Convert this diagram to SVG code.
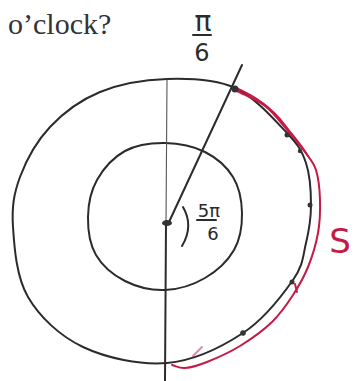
<svg xmlns="http://www.w3.org/2000/svg" width="355" height="381" viewBox="0 0 355 381">
<style>
.ink{fill:none;stroke:#2b2b2b;stroke-width:2;stroke-linecap:round;stroke-linejoin:round}
.thin{fill:none;stroke:#555;stroke-width:1.1;stroke-linecap:round}
.red{fill:none;stroke:#c41a45;stroke-width:2;stroke-linecap:round;stroke-linejoin:round}
.dot{fill:#333}
.hand{font-family:"DejaVu Sans",sans-serif;fill:#2b2b2b}
</style>
<rect width="355" height="381" fill="#ffffff"/>
<text x="8" y="34" font-family="Liberation Serif, serif" font-size="30" fill="#333">o’clock?</text>
<g id="outer-circle">
<path class="ink" d="M167,79 C189.5,78.3 215,79 235,88 C255,97 275.2,120.5 287,133 C298.8,145.5 302,151 306,163 C310,175 311,191.7 311,205 C311,218.3 309,230.5 306,243 C303,255.5 303.5,265 293,280 C282.5,295 264,319.2 243,333 C222,346.8 193.7,360.7 167,363 C140.3,365.3 106.2,358 83,347 C59.8,336 39.7,317 28,297 C16.3,277 14.3,247 13,227 C11.7,207 13.8,193.7 20,177 C26.2,160.3 36.7,141.2 50,127 C63.3,112.8 80.5,100 100,92 C119.5,84 144.5,79.7 167,79 Z"/>
</g>
<g id="inner-circle">
<path class="ink" d="M165,143 C178.3,143.2 193.7,146.3 205,152 C216.3,157.7 226.8,166.8 233,177 C239.2,187.2 241.8,200.8 242,213 C242.2,225.2 240.2,239.2 234,250 C227.8,260.8 216.5,271.3 205,278 C193.5,284.7 178.3,289.5 165,290 C151.7,290.5 136.5,286.8 125,281 C113.5,275.2 102.2,265.7 96,255 C89.8,244.3 87.8,229.5 88,217 C88.2,204.5 90.8,191 97,180 C103.2,169 113.7,157.2 125,151 C136.3,144.8 151.7,142.8 165,143 Z"/>
</g>
<g id="axes">
<path class="thin" d="M167,80 L166,223"/>
<path class="ink" d="M166,223 L165,381"/>
<path class="ink" stroke-width="1.6" d="M169,222 L242,65"/>
<path class="ink" stroke-width="1.6" d="M183,207 Q194,226 182,246"/>
</g>
<g id="arc-s">
<path class="red" d="M235,90 C245,95.3 256.2,99.2 265,106 C273.8,112.8 281.3,123.3 288,131 C294.7,138.7 300.3,145.5 305,152 C309.7,158.5 313.5,162 316,170 C318.5,178 319.7,189.5 320,200 C320.3,210.5 320,221.8 318,233 C316,244.2 312.2,256.7 308,267 C303.8,277.3 299,285.8 293,295 C287,304.2 280.8,313.5 272,322 C263.2,330.5 250.8,339.3 240,346 C229.2,352.7 216.2,358.3 207,362 C197.8,365.7 190.8,367.5 185,368 C179.2,368.5 176.3,366 172,365"/>
<path class="red" stroke-width="1.2" d="M236,88 C250,94 270,106 284,124 C294,137 302,146 308,156"/>
<path class="red" stroke-width="1" d="M295,284 L297,292"/>
<path class="red" stroke-width="1" opacity="0.5" d="M193,356 L202,347"/>
</g>
<g id="points">
<ellipse class="dot" cx="167" cy="223" rx="5" ry="3"/>
<circle class="dot" cx="235" cy="89" r="3.5"/>
<circle class="dot" cx="287" cy="135" r="2.5"/>
<circle class="dot" cx="300" cy="151" r="2.2"/>
<circle class="dot" cx="310" cy="205" r="2.5"/>
<circle class="dot" cx="292" cy="282" r="2.5"/>
<circle class="dot" cx="243" cy="333" r="2.8"/>
</g>
<g id="label-pi-6">
<text class="hand" x="203" y="31" font-size="28" text-anchor="middle">π</text>
<path class="ink" stroke-width="1.6" d="M193,35 L211,35"/>
<text class="hand" x="202" y="61" font-size="24" text-anchor="middle">6</text>
</g>
<g id="label-5pi-6">
<text class="hand" x="209" y="217" font-size="18" text-anchor="middle">5π</text>
<path class="ink" stroke-width="1.4" d="M197,220 L216,220"/>
<text class="hand" x="213" y="240" font-size="18" text-anchor="middle">6</text>
</g>
<text x="340" y="253" font-family="DejaVu Sans, sans-serif" font-size="34" fill="#c41a45" text-anchor="middle">S</text>
</svg>
